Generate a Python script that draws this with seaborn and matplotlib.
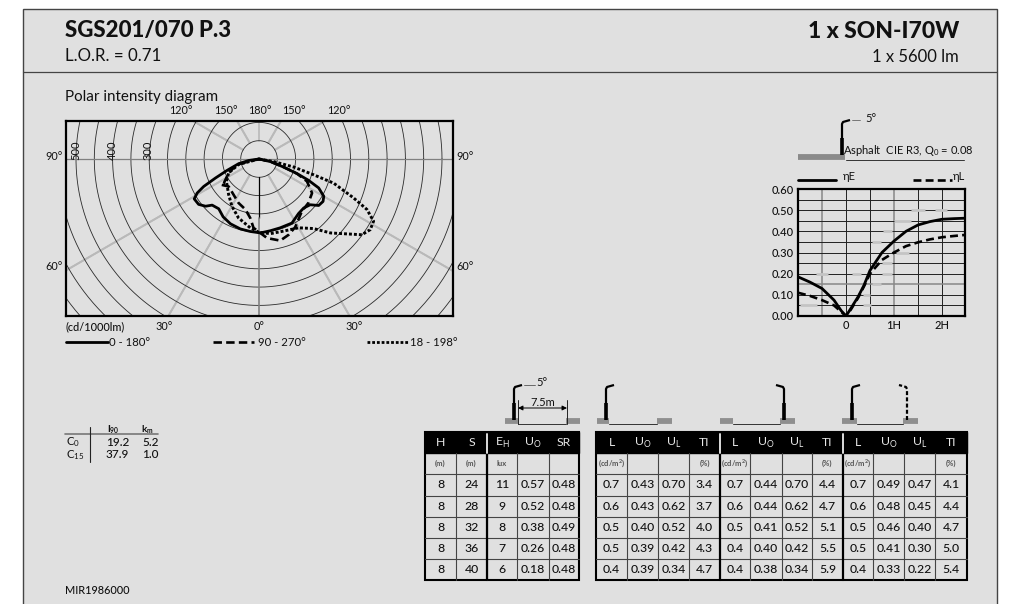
import numpy as np
import matplotlib
matplotlib.use("Agg")
import matplotlib.pyplot as plt
import seaborn as sns
import pandas as pd

# ---------- data ----------
title_left = "SGS201/070 P.3"
sub_left = "L.O.R. = 0.71"
title_right = "1 x SON-I70W"
sub_right = "1 x 5600 lm"
footer = "MIR1986000"

# polar curves, cd/1000lm, in the plane of the diagram
solid_x = [0, -28, -56, -87, -119, -151, -169, -177, -165, -146, -128, -110, -98, -78, -51, -24, 4, 31, 58, 90, 108, 122, 140, 163, 175, 177, 163, 135, 104, 67, 31, 0]
solid_y = [0, -4, -13, -31, -52, -75, -93, -109, -124, -129, -126, -136, -158, -177, -191, -198, -202, -196, -188, -175, -149, -134, -125, -127, -116, -102, -79, -58, -40, -22, -7, 0]
dash_x = [0, -60, -83, -96, -105, -83, -56, -37, -24, -15, 22, 58, 81, 99, 117, 135, 145, 131, 104, 67, 31, 0]
dash_y = [0, -15, -38, -66, -70, -75, -120, -138, -161, -188, -216, -223, -207, -186, -143, -120, -93, -61, -40, -22, -7, 0]
dot_x = [0, -56, -83, -89, -83, -74, -56, -24, -1, 31, 67, 108, 149, 195, 281, 304, 313, 295, 258, 204, 149, 95, 40, 0]
dot_y = [0, -15, -38, -61, -97, -129, -161, -188, -200, -204, -197, -188, -190, -202, -207, -193, -170, -138, -106, -66, -43, -22, -7, 0]

# utilisation curves
util_h = [-1, -0.75, -0.5, -0.25, -0.1, 0, 0.1, 0.25, 0.375, 0.5, 0.75, 1, 1.25, 1.5, 1.75, 2, 2.25, 2.48]
eta_e = [0.185, 0.16, 0.13, 0.075, 0.025, 0, 0.035, 0.09, 0.145, 0.215, 0.30, 0.354, 0.40, 0.43, 0.446, 0.457, 0.46, 0.462]
eta_l = [0.11, 0.095, 0.075, 0.05, 0.02, 0, 0.03, 0.085, 0.14, 0.20, 0.265, 0.30, 0.33, 0.348, 0.362, 0.372, 0.378, 0.383]

# glare table
glare_i = ["19.2", "37.9"]
glare_k = ["5.2", "1.0"]

# tables
t1_head = ["H", "S", "E$_{\\mathregular{H}}$", "U$_{\\mathregular{O}}$", "SR"]
t1_unit = ["(m)", "(m)", "lux", "", ""]
t1_rows = [["8", "24", "11", "0.57", "0.48"],
           ["8", "28", "9", "0.52", "0.48"],
           ["8", "32", "8", "0.38", "0.49"],
           ["8", "36", "7", "0.26", "0.48"],
           ["8", "40", "6", "0.18", "0.48"]]
t_head = ["L", "U$_{\\mathregular{O}}$", "U$_{\\mathregular{L}}$", "TI"]
t_unit = ["(cd/m$^{\\mathregular{2}}$)", "", "", "(%)"]
t2_rows = [["0.7", "0.43", "0.70", "3.4"], ["0.6", "0.43", "0.62", "3.7"], ["0.5", "0.40", "0.52", "4.0"],
           ["0.5", "0.39", "0.42", "4.3"], ["0.4", "0.39", "0.34", "4.7"]]
t3_rows = [["0.7", "0.44", "0.70", "4.4"], ["0.6", "0.44", "0.62", "4.7"], ["0.5", "0.41", "0.52", "5.1"],
           ["0.4", "0.40", "0.42", "5.5"], ["0.4", "0.38", "0.34", "5.9"]]
t4_rows = [["0.7", "0.49", "0.47", "4.1"], ["0.6", "0.48", "0.45", "4.4"], ["0.5", "0.46", "0.40", "4.7"],
           ["0.5", "0.41", "0.30", "5.0"], ["0.4", "0.33", "0.22", "5.4"]]

# pale ghost strokes visible inside the utilisation chart: (h from, h to, level)
ghost_strokes = [(-0.62, -0.38, 0.20), (0.12, 0.32, 0.20), (0.75, 0.95, 0.20), (-0.95, -0.6, 0.05),
                 (0.35, 0.52, 0.05), (0.35, 0.5, 0.10), (0.55, 0.72, 0.15), (0.55, 0.72, 0.35),
                 (0.78, 0.95, 0.40), (1.0, 1.35, 0.45), (1.35, 1.65, 0.50), (1.85, 2.1, 0.50),
                 (1.05, 1.32, 0.30), (0.75, 0.95, 0.25)]

# ---------- style ----------
W, H = 1016, 604
BG = "#e0e0e0"
GRID = "#b9b9b9"
INK = "#111111"
sns.set_theme(style="white")
plt.rcParams["font.family"] = ["Lato", "DejaVu Sans"]
plt.rcParams["mathtext.fontset"] = "custom"
plt.rcParams["mathtext.rm"] = "Lato"

fig = plt.figure(figsize=(W / 100, H / 100), dpi=100, facecolor="white")


def axes_px(x0, y0, x1, y1, **kw):
    return fig.add_axes([x0 / W, 1 - y1 / H, (x1 - x0) / W, (y1 - y0) / H], **kw)


# page layer in pixel coordinates
page = axes_px(0, 0, W, H, zorder=0)
page.set_xlim(0, W)
page.set_ylim(H, 0)
page.axis("off")
page.add_patch(plt.Rectangle((23, 9), 974, 600, fc=BG, ec="#444444", lw=1.0))
page.plot([23, 997], [72, 72], color="#444444", lw=0.9)


def txt(x, y, s, size=8, ha="left", va="center", weight="normal", color=INK, ax=page, **kw):
    return ax.text(x, y, s, fontsize=size, ha=ha, va=va, fontweight=weight, color=color, **kw)


txt(65, 31, title_left, 16, weight=900)
txt(65, 56, sub_left, 12.2)
txt(959, 31, title_right, 16.5, ha="right", weight=900)
txt(959, 57, sub_right, 12, ha="right")
txt(65, 97, "Polar intensity diagram", 10.9)
txt(65, 591, footer, 7.8, weight=500)

# ---------- polar diagram ----------
SCALE = 0.366  # px per cd
pol = axes_px(66, 121, 453, 316, zorder=2, facecolor="none")
pol.set_xlim(-193 / SCALE, 194 / SCALE)
pol.set_ylim(-157 / SCALE, 38 / SCALE)
theta = np.linspace(0, 2 * np.pi, 721)
for r in range(50, 701, 50):
    pol.plot(r * np.cos(theta), r * np.sin(theta), color="#2a2a2a", lw=0.6, zorder=2)
R = 800
for deg in [30, 60, 120, 150]:
    a = np.deg2rad(deg)
    for sx in (1, -1):
        for sy in (1, -1):
            pol.plot([sx * 50 * np.cos(a), sx * R * np.cos(a)], [sy * 50 * np.sin(a), sy * R * np.sin(a)],
                     color=GRID, lw=1.3, zorder=1)
pol.axhline(0, color="#808080", lw=0.9, zorder=2)
pol.plot([0, 0], [50, 104], color=GRID, lw=1.2, zorder=1)
pol.plot([0, 0], [-50, -160], color="black", lw=0.9, zorder=2)
pol.plot([0, 0], [-160, -430], color="#808080", lw=1.2, zorder=2)
for name, xs, ys, ls, lw in [("0 - 180", solid_x, solid_y, "-", 2.0),
                             ("90 - 270", dash_x, dash_y, (0, (3.2, 1.6)), 1.9),
                             ("18 - 198", dot_x, dot_y, (0, (1.0, 0.7)), 2.1)]:
    df = pd.DataFrame({"x": xs, "y": ys})
    sns.lineplot(data=df, x="x", y="y", sort=False, estimator=None, ax=pol, color="black",
                 lw=lw, linestyle=ls, zorder=5, solid_joinstyle="round", dash_joinstyle="round")
pol.set(xlabel="", ylabel="", xticks=[], yticks=[])
for s in pol.spines.values():
    s.set_visible(True)
    s.set_linewidth(1.6)
    s.set_color("black")

# labels layer
fig_txt = axes_px(0, 0, W, H, zorder=6, facecolor="none")
fig_txt.set_xlim(0, W)
fig_txt.set_ylim(H, 0)
fig_txt.axis("off")
for val, x in [("500", 76), ("400", 112), ("300", 148)]:
    txt(x, 150, val, 8, ha="center", rotation=90, ax=fig_txt)
for s, x in [("120°", 181), ("150°", 226), ("180°", 260), ("150°", 294), ("120°", 339)]:
    txt(x, 111, s, 7.8, ha="center", ax=fig_txt)
txt(63, 156, "90°", 7.8, ha="right", ax=fig_txt)
txt(456, 156, "90°", 7.8, ax=fig_txt)
txt(63, 267, "60°", 7.8, ha="right", ax=fig_txt)
txt(456, 267, "60°", 7.8, ax=fig_txt)
txt(65, 327, "(cd/1000lm)", 7.8, weight=500, ax=fig_txt)
for s, x in [("30°", 164), ("0°", 259), ("30°", 354)]:
    txt(x, 327, s, 7.8, ha="center", ax=fig_txt)
fig_txt.plot([66, 108], [342, 342], color="black", lw=2.0)
txt(109, 342, "0 - 180°", 8.2, ax=fig_txt)
fig_txt.plot([213, 254], [342, 342], color="black", lw=1.9, linestyle=(0, (3.2, 1.6)))
txt(258, 342, "90 - 270°", 8.2, ax=fig_txt)
fig_txt.plot([367, 408], [342, 342], color="black", lw=2.0, linestyle=(0, (1.0, 0.7)))
txt(410, 342, "18 - 198°", 8.2, ax=fig_txt)

# ---------- utilisation chart ----------
ut = axes_px(798, 189, 965, 316, zorder=2, facecolor="none")
ut.set_xlim(-1, 2.48)
ut.set_ylim(0, 0.6)
for h in [-0.5, 1.0]:
    ut.axvline(h, color="#888888", lw=1.1)
for h in [0, 0.5, 1.5, 2.0]:
    ut.axvline(h, color="#222222", lw=0.7)
for v in np.arange(0.05, 0.6, 0.05):
    ut.axhline(v, color="#888888" if abs(v - 0.15) < 1e-6 else "#222222", lw=1.1 if abs(v - 0.15) < 1e-6 else 0.7)
for h0, h1, lev in ghost_strokes:
    ut.plot([h0, h1], [lev, lev], color="#c4c4c4", lw=2.0, zorder=3, solid_capstyle="butt")
udf = pd.DataFrame({"h": util_h, "e": eta_e, "l": eta_l})
sns.lineplot(data=udf, x="h", y="e", ax=ut, color="black", lw=2.0, estimator=None, sort=False, zorder=5)
sns.lineplot(data=udf, x="h", y="l", ax=ut, color="black", lw=1.9, linestyle=(0, (3.0, 1.6)), estimator=None,
             sort=False, zorder=5)
ut.set_xticks([0, 1, 2], ["0", "1H", "2H"])
ut.set_yticks(np.arange(0, 0.61, 0.1), [f"{v:.2f}" for v in np.arange(0, 0.61, 0.1)])
ut.tick_params(labelsize=8, length=0, pad=3, colors=INK)
for lab in ut.get_xticklabels() + ut.get_yticklabels():
    lab.set_fontweight(500)
ut.set(xlabel="", ylabel="")
for s in ut.spines.values():
    s.set_visible(True)
    s.set_linewidth(1.6)
    s.set_color("black")

fig_txt.plot([798, 845], [157, 157], color="#8a8a8a", lw=4.2, solid_capstyle="butt")
fig_txt.plot([846, 964], [160, 160], color="#333333", lw=0.7)
txt(843, 151, "Asphalt  CIE R3, Q$_{\\mathregular{0}}$ = 0.08", 8, ax=fig_txt)
fig_txt.plot([798, 836], [180, 180], color="black", lw=2.0)
txt(843, 177, "ηE", 8, ha="left", ax=fig_txt)
fig_txt.plot([913, 952], [180, 180], color="black", lw=1.9, linestyle=(0, (3.0, 1.6)))
txt(953, 177, "ηL", 8, ax=fig_txt)


def pole(x, base, top, arm=1, ls="-"):
    """small lamp-post symbol: x = foot of the pole, arm = reach direction"""
    cap = "butt" if ls == "-" else "butt"
    fig_txt.plot([x, x, x + 1 * arm, x + 8 * arm], [base, top + 4, top + 2, top], color="black", lw=1.6,
                 linestyle=ls, solid_capstyle=cap, solid_joinstyle="round")
    if ls == "-":
        fig_txt.plot([x, x], [base, base - 17], color="black", lw=2.6, solid_capstyle="butt")


# pole above the utilisation chart
pole(842, 155, 120)
fig_txt.plot([852, 860], [120, 120], color="#666666", lw=0.6)
txt(865, 118, "5°", 8, ax=fig_txt)

# road sketches above the tables
for l0, l1, r0, r1 in [(505, 518, 566, 580), (597, 609, 657, 672), (720, 733, 780, 795), (842, 857, 903, 918)]:
    fig_txt.plot([l0, l1], [421, 421], color="#8f8f8f", lw=4.2, solid_capstyle="butt")
    fig_txt.plot([r0, r1], [421, 421], color="#8f8f8f", lw=4.2, solid_capstyle="butt")
    fig_txt.plot([l1, r0], [424, 424], color="#333333", lw=0.7)
pole(514, 420, 385)
pole(606, 420, 385)
pole(784, 420, 385, arm=-1)
pole(852, 420, 385)
pole(907, 420, 385, arm=-1, ls=(0, (1.8, 1.0)))
fig_txt.plot([524, 535], [385, 385], color="#555555", lw=0.6)
txt(536, 383, "5°", 8, ax=fig_txt)
fig_txt.annotate("", xy=(518, 408), xytext=(567, 408),
                 arrowprops=dict(arrowstyle="<|-|>", color="black", lw=0.7, shrinkA=0, shrinkB=0, mutation_scale=7))
fig_txt.plot([518, 518], [400, 424], color="#222222", lw=0.7)
fig_txt.plot([567, 567], [400, 424], color="#222222", lw=0.7)
txt(543, 402, "7.5m", 8, ha="center", ax=fig_txt)

# glare table
fig_txt.plot([65, 158], [434, 434], color="#777777", lw=1.2)
fig_txt.plot([90, 90], [427, 462], color="#222222", lw=0.8)
txt(113, 430, "I$_{\\mathregular{90}}$", 7, ha="center", weight="bold", ax=fig_txt)
txt(147, 430, "k$_{\\mathregular{m}}$", 7, ha="center", weight="bold", ax=fig_txt)
txt(66, 442, "C$_{\\mathregular{0}}$", 8.2, ax=fig_txt)
txt(66, 455, "C$_{\\mathregular{15}}$", 8.2, ax=fig_txt)
for i, yy in enumerate([442, 455]):
    txt(129, yy, glare_i[i], 8.5, ha="right", weight=500, ax=fig_txt)
    txt(159, yy, glare_k[i], 8.5, ha="right", weight=500, ax=fig_txt)

# ---------- performance tables ----------
ROW_Y = [453, 474, 496, 517, 538, 559, 580]
TOP, BOT = 432, 580


def table(edges, head, unit, rows):
    fig_txt.add_patch(plt.Rectangle((edges[0], TOP), edges[-1] - edges[0], ROW_Y[0] - TOP, fc="black", ec="black", lw=1.0))
    for e in edges[1:-1]:
        fig_txt.plot([e, e], [ROW_Y[0], BOT], color="#444444", lw=0.8)
    for y in ROW_Y[1:-1]:
        fig_txt.plot([edges[0], edges[-1]], [y, y], color="#444444", lw=0.8)
    for j in range(len(head)):
        cx = (edges[j] + edges[j + 1]) / 2
        txt(cx, (TOP + ROW_Y[0]) / 2, head[j], 8.8, ha="center", color="#e8e8e8", ax=fig_txt)
        if unit[j]:
            txt(cx, (ROW_Y[0] + ROW_Y[1]) / 2, unit[j], 5.5, ha="center", weight="bold", color="#555555", ax=fig_txt)
        for i, row in enumerate(rows):
            txt(cx, (ROW_Y[i + 1] + ROW_Y[i + 2]) / 2, row[j], 8.8, ha="center", weight=500, ax=fig_txt)


table([425, 456, 487, 517, 549, 579], t1_head, t1_unit, t1_rows)
table([596, 627, 658, 689, 720], t_head, t_unit, t2_rows)
table([720, 750, 782, 812, 843], t_head, t_unit, t3_rows)
table([843, 873, 904, 935, 967], t_head, t_unit, t4_rows)
for x0, x1 in [(425, 579), (596, 967)]:
    fig_txt.add_patch(plt.Rectangle((x0, TOP), x1 - x0, BOT - TOP, fc="none", ec="black", lw=1.5))
for x in [487, 720, 843]:
    fig_txt.plot([x, x], [ROW_Y[0], BOT], color="black", lw=1.6)
    fig_txt.plot([x, x], [TOP + 2, ROW_Y[0]], color="#dddddd", lw=1.4)

fig.savefig("out.png", dpi=100, facecolor="white")
